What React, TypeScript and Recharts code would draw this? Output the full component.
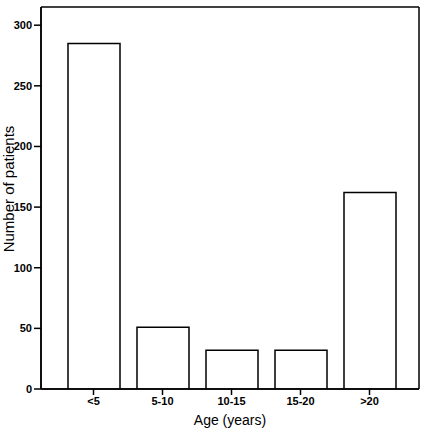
import React from 'react';
import { BarChart, Bar, XAxis, YAxis, CartesianGrid } from 'recharts';

const categories = ['<5', '5-10', '10-15', '15-20', '>20'];
const patients = [285, 51, 32, 32, 162];
const yTicks = [0, 50, 100, 150, 200, 250, 300];

const data = categories.map((c, i) => ({ age: c, patients: patients[i] }));

const tickStyle = { fontFamily: 'Liberation Sans, Arial, sans-serif', fontSize: 11, fontWeight: 700, fill: '#000' };

export default function App() {
  return (
    <div style={{ position: 'absolute', left: 0, top: 0, background: '#fff' }}>
      <BarChart
        width={425}
        height={428}
        data={data}
        margin={{ top: 7, right: 6, bottom: 0, left: 0 }}
        barSize={52}
      >
        <CartesianGrid
          stroke="#000"
          strokeWidth={1.5}
          horizontalCoordinatesGenerator={(p: any) => [p.offset.top, p.offset.top + p.offset.height]}
          verticalCoordinatesGenerator={(p: any) => [p.offset.left, p.offset.left + p.offset.width]}
        />
        <XAxis
          dataKey="age"
          height={39}
          tick={tickStyle}
          tickSize={6}
          tickMargin={2}
          tickLine={{ stroke: '#000', strokeWidth: 1.5 }}
          axisLine={{ stroke: '#000', strokeWidth: 1.5 }}
          padding={{ left: 18, right: 15 }}
          label={{ value: 'Age (years)', position: 'insideBottom', offset: 3, style: { fontFamily: 'Liberation Sans, Arial, sans-serif', fontSize: 14, fill: '#000' } }}
        />
        <YAxis
          domain={[0, 315]}
          ticks={yTicks}
          width={41}
          tick={tickStyle}
          tickSize={7}
          tickMargin={2}
          tickLine={{ stroke: '#000', strokeWidth: 1.5 }}
          axisLine={{ stroke: '#000', strokeWidth: 1.5 }}
          allowDataOverflow
          label={{ value: 'Number of  patients', angle: -90, position: 'insideLeft', offset: 0, dx: 9, dy: -9, style: { fontFamily: 'Liberation Sans, Arial, sans-serif', fontSize: 15, fill: '#000', textAnchor: 'middle' } }}
        />
        <Bar
          dataKey="patients"
          fill="#fff"
          stroke="#000"
          strokeWidth={1.5}
          isAnimationActive={false}
        />
      </BarChart>
    </div>
  );
}
